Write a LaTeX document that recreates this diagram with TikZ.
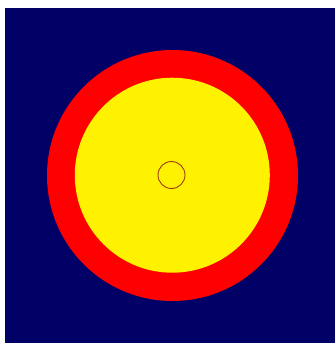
\documentclass[tikz,border=0pt]{standalone}
\definecolor{navy}{RGB}{0,0,102}
\definecolor{rim}{RGB}{160,60,10}
\begin{document}
\begin{tikzpicture}[x=1pt,y=-1pt]
\useasboundingbox (0,0) rectangle (335,343);
\fill[navy] (5,8) rectangle (335,343);
\fill[red] (172.5,175.5) circle (125.5);
\fill[yellow] (172.3,175.2) circle (97.5);
\draw[rim, line width=0.9pt] (171.5,175) circle (13.5);
\end{tikzpicture}
\end{document}
